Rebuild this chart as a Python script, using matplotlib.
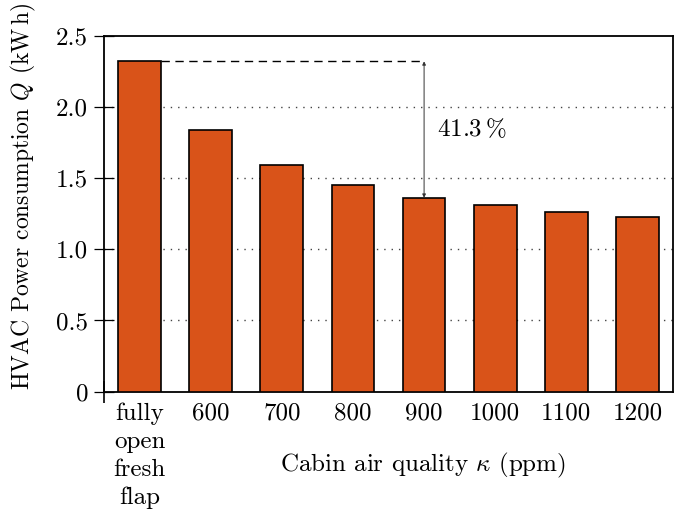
import numpy as np
import matplotlib
matplotlib.use('Agg')
import matplotlib.pyplot as plt
from matplotlib.ticker import FixedLocator

plt.rcParams['font.family'] = 'serif'
plt.rcParams['font.serif'] = ['cmr10']
plt.rcParams['mathtext.fontset'] = 'cm'
plt.rcParams['axes.unicode_minus'] = False
plt.rcParams['axes.formatter.use_mathtext'] = True

# HVAC energy use per cabin air quality threshold
categories = ['fully\nopen\nfresh\nflap', '600', '700', '800', '900', '1000', '1100', '1200']
power_kwh = [2.32, 1.84, 1.59, 1.45, 1.362, 1.31, 1.26, 1.23]
y_ticks = [0, 0.5, 1.0, 1.5, 2.0, 2.5]
y_tick_labels = ['0', '0.5', '1.0', '1.5', '2.0', '2.5']

bar_color = '#D95319'
fs = 18
x = np.arange(len(categories))

fig = plt.figure(figsize=(6.83, 5.16), dpi=100)
ax = fig.add_axes([0.1523, 0.2409, 0.8331, 0.6899])

ax.bar(x, power_kwh, width=0.6, color=bar_color, edgecolor='black',
       linewidth=1.2, zorder=3)

ax.set_xlim(-0.5, 7.5)
ax.set_ylim(0, 2.5)

ax.set_yticks(y_ticks)
ax.set_yticklabels(y_tick_labels, fontsize=fs)
ax.tick_params(axis='y', direction='inout', length=15, width=0.9, pad=4)

ax.set_xticks(x)
ax.set_xticklabels(categories, fontsize=fs, linespacing=1.32, va='top')
ax.tick_params(axis='x', length=0, pad=8)
# short stub of the y axis below the origin
ax.xaxis.set_minor_locator(FixedLocator([-0.5]))
ax.tick_params(axis='x', which='minor', direction='inout', length=16, width=1.2)

for s in ax.spines.values():
    s.set_linewidth(1.3)

# dotted horizontal grid behind the bars
for yv in y_ticks[1:-1]:
    ax.axhline(yv, color='#444444', linewidth=1.0, linestyle=(0, (1, 4.3)), zorder=1)

ax.set_xlabel(r'Cabin air quality $\kappa$ (ppm)', fontsize=fs, va='center')
ax.xaxis.set_label_coords(0.561, -0.206)
ax.set_ylabel(r'HVAC Power consumption $Q$ $(\mathrm{kW\,h})$', fontsize=17,
              va='center')
ax.yaxis.set_label_coords(-0.141, 0.549)

# reduction from the open-flap case to the 900 ppm threshold
top = power_kwh[0]
ref = power_kwh[4]
ax.plot([x[0] + 0.3, x[4]], [top, top], color='black', linewidth=1.0,
        dashes=(6, 4), zorder=4)
ax.annotate('', xy=(x[4], ref), xytext=(x[4], top),
            arrowprops=dict(arrowstyle='<|-|>', color='#333333', lw=0.7,
                            mutation_scale=5, shrinkA=0, shrinkB=0), zorder=4)
reduction = (top - ref) / top * 100
ax.text(x[4] + 0.18, 1.84, f'{reduction:.1f}' + r'$\,$%', fontsize=fs,
        va='center', ha='left')

fig.savefig('out.png', dpi=100)
